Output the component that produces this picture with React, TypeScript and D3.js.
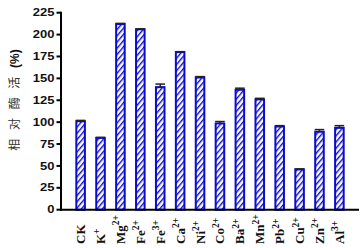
import React from "react";
import * as d3 from "d3";

const categories = ["CK", "K", "Mg", "Fe", "Fe", "Ca", "Ni", "Co", "Ba", "Mn", "Pb", "Cu", "Zn", "Al"];
const charges = ["", "+", "2+", "2+", "3+", "2+", "2+", "2+", "2+", "2+", "2+", "2+", "2+", "3+"];
const values = [101, 82, 212, 206, 140, 180, 151, 98.5, 137, 126, 95, 46, 89, 93.5];
const errors = [1, 0.6, 0.8, 0.6, 3.5, 0.5, 1, 2.2, 1.8, 1.2, 1, 0.6, 2.5, 2.5];
const yTicks = [0, 25, 50, 75, 100, 125, 150, 175, 200, 225];

const W = 364;
const H = 248;
const axisX = 61;
const axisRight = 359;
const y0 = 209.7;
const yTop = 12.7;

export default function App() {
  const x = d3
    .scaleBand<number>()
    .domain(d3.range(categories.length))
    .range([axisX, axisRight])
    .paddingInner(0.57)
    .paddingOuter(0.77);
  const y = d3.scaleLinear().domain([0, 225]).range([y0, yTop]);
  const bw = x.bandwidth();
  const blue = "#0a0ad0";

  return (
    <div style={{ position: "absolute", left: 0, top: 0 }}>
      <svg width={W} height={H} style={{ display: "block", background: "#fff" }}>
        <defs>
          <pattern id="hatch" patternUnits="userSpaceOnUse" width="4" height="4" patternTransform="rotate(40)">
            <rect width="4" height="4" fill="#fff" />
            <line x1="0.7" y1="0" x2="0.7" y2="4" stroke={blue} strokeWidth="1.4" />
          </pattern>
        </defs>

        {/* bars */}
        {values.map((v, i) => {
          const bx = x(i)!;
          return (
            <rect
              key={"b" + i}
              x={bx}
              y={y(v)}
              width={bw}
              height={y0 - y(v)}
              fill="url(#hatch)"
              stroke={blue}
              strokeWidth={2}
            />
          );
        })}

        {/* error bars */}
        {values.map((v, i) => {
          const cx = x(i)! + bw / 2;
          const top = y(v + errors[i]);
          return (
            <g key={"e" + i} stroke="#222" strokeWidth={1.5}>
              <line x1={cx} x2={cx} y1={y(v)} y2={top} />
              <line x1={cx - bw / 2 - 0.5} x2={cx + bw / 2 + 0.5} y1={top} y2={top} />
            </g>
          );
        })}

        {/* axes */}
        <line x1={axisX} x2={axisX} y1={yTop - 1} y2={y0 + 1} stroke="#000" strokeWidth={2} />
        <line x1={axisX - 1} x2={axisRight} y1={y0} y2={y0} stroke="#000" strokeWidth={2} />
        {yTicks.map((t) => (
          <g key={"t" + t}>
            <line x1={axisX - 4.5} x2={axisX} y1={y(t)} y2={y(t)} stroke="#000" strokeWidth={2} />
            <text
              transform={`translate(54.5,${y(t) + 3.6}) scale(1.3,1)`}
              textAnchor="end"
              fontFamily="Arial, 'Liberation Sans', sans-serif"
              fontWeight="bold"
              fontSize={10}
              fill="#111"
            >
              {t}
            </text>
          </g>
        ))}

        {/* x labels */}
        {categories.map((c, i) => {
          const cx = x(i)! + bw / 2 + 4.5;
          return (
            <text
              key={"x" + i}
              transform={`translate(${cx},244) rotate(-90)`}
              textAnchor="start"
              fontFamily="'Liberation Serif', 'Times New Roman', serif"
              fontWeight="bold"
              fontSize={13}
              fill="#111"
            >
              {c}
              {charges[i] && (
                <tspan fontSize={9.5} dy={-5.5}>
                  {charges[i]}
                </tspan>
              )}
            </text>
          );
        })}

        {/* y title */}
        <text
          transform={`translate(19,100) rotate(-90)`}
          textAnchor="middle"
          fontFamily="'Noto Sans CJK SC', sans-serif"
          fontSize={12}
          letterSpacing={3}
          fill="#333"
        >
          相 对 酶 活{" "}
          <tspan fontFamily="Arial, 'Liberation Sans', sans-serif" fontWeight="bold" letterSpacing={0} fill="#111">
            (%)
          </tspan>
        </text>
      </svg>
    </div>
  );
}
